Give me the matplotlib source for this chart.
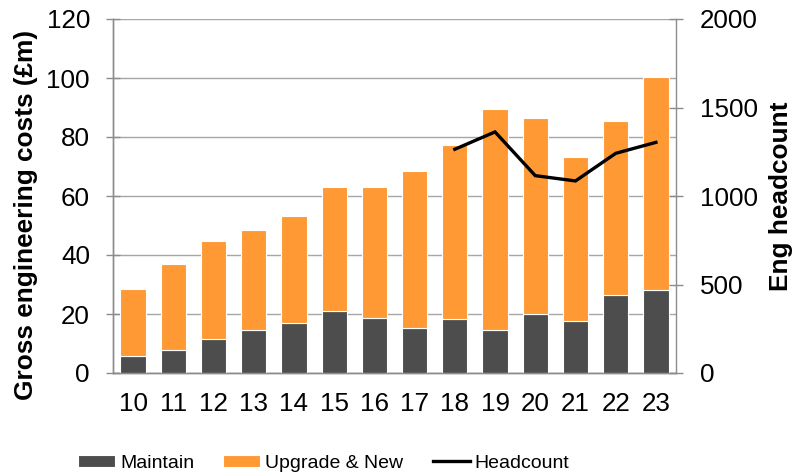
import matplotlib
matplotlib.use("Agg")
import matplotlib.pyplot as plt
import numpy as np

years = ["10", "11", "12", "13", "14", "15", "16", "17", "18", "19", "20", "21", "22", "23"]
maintain = [5.8, 7.8, 11.6, 14.6, 17.1, 20.9, 18.6, 15.3, 18.2, 14.6, 20.0, 17.7, 26.3, 28.1]
totals = [28.4, 36.9, 44.8, 48.5, 53.2, 63.0, 62.9, 68.6, 77.2, 89.5, 86.3, 73.1, 85.5, 100.2]
upgrade = [t - m for t, m in zip(totals, maintain)]
hc_years = ["18", "19", "20", "21", "22", "23"]
headcount = [1264, 1362, 1115, 1085, 1241, 1303]

plt.rcParams['font.family'] = ['Liberation Sans', 'DejaVu Sans']

fig = plt.figure(figsize=(7.99, 4.76), dpi=100)
ax = fig.add_axes([113/799, 1-373/476, (676-113)/799, (373-19)/476])
ax2 = ax.twinx()

x = np.arange(len(years))
dark = "#4d4d4d"
orange = "#ff9933"
grid_c = "#a6a6a6"
spine_c = "#8c8c8c"

ax.bar(x, maintain, 0.63, color=dark, edgecolor="white", linewidth=0.8, label="Maintain", zorder=3)
ax.bar(x, upgrade, 0.63, bottom=maintain, color=orange, edgecolor="white", linewidth=0.8,
       label="Upgrade & New", zorder=3)

hx = [years.index(y) for y in hc_years]
ax2.plot(hx, headcount, color="black", linewidth=2.4, label="Headcount", solid_joinstyle="miter")

ax.set_xlim(-0.5, len(years) - 0.5)
ax.set_ylim(0, 120)
ax.set_yticks(range(0, 121, 20))
ax2.set_ylim(0, 2000)
ax2.set_yticks(range(0, 2001, 500))
ax.set_xticks(x)
ax.set_xticklabels(years)

ax.yaxis.grid(True, color=grid_c, linewidth=1.0, zorder=0)
ax.set_axisbelow(True)

for a in (ax, ax2):
    for s in a.spines.values():
        s.set_color(spine_c)
        s.set_linewidth(1.0)
    a.spines['top'].set_visible(False)
ax.spines['right'].set_visible(False)

ax.tick_params(axis='y', direction='inout', length=10, width=1.0, color=spine_c,
               labelsize=18.7, pad=11.6)
ax.tick_params(axis='x', length=0, labelsize=18.7, pad=14)
ax2.tick_params(axis='y', direction='inout', length=10, width=1.0, color=spine_c,
                labelsize=18.7, pad=12)

ax.set_ylabel("Gross engineering costs (£m)", fontsize=18.9, fontweight="bold")
ax.yaxis.set_label_coords(-0.133, 0.445)
ax2.set_ylabel("Eng headcount", fontsize=18.9, fontweight="bold")
ax2.yaxis.set_label_coords(1.165, 0.5)

h1, l1 = ax.get_legend_handles_labels()
h2, l2 = ax2.get_legend_handles_labels()
fig.legend(h1 + h2, l1 + l2, loc="center left", bbox_to_anchor=(78/799, 1-463/476),
           ncol=3, frameon=False, borderpad=0, borderaxespad=0,
           prop={'size': 14},
           handlelength=1.9, handleheight=0.57, handletextpad=0.26, columnspacing=1.5)

fig.savefig("out.png", dpi=100)
